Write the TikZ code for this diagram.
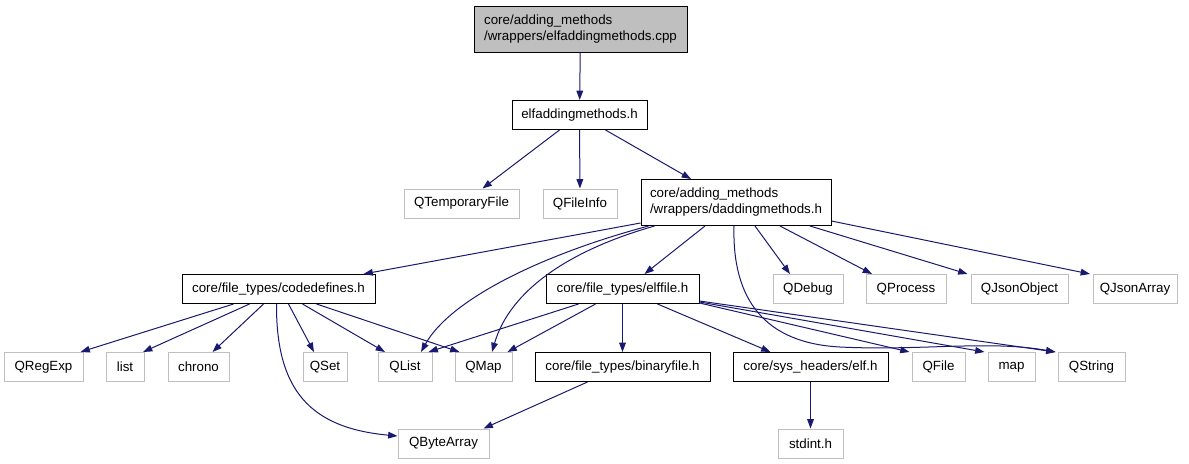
\documentclass[tikz,border=0pt]{standalone}
\usepackage{fontspec}
\setmainfont{Liberation Sans}
\usetikzlibrary{arrows.meta,calc}
\definecolor{edgeblue}{RGB}{25,25,112}
\definecolor{extgray}{RGB}{191,191,191}

\begin{document}
\begin{tikzpicture}[x=0.75pt,y=-0.75pt,>={Triangle[length=7pt,width=5pt]},font=\normalsize,
 nd/.style={inner sep=0pt,minimum height=21.75pt,align=center,line width=0.75pt},
 doc/.style={nd,draw=black},
 ext/.style={nd,draw=extgray},
 two/.style={minimum height=34.5pt,align=left},
 cur/.style={nd,two,draw=black,fill=extgray},
 wd/.style={minimum width=#1*0.75pt},
 dep/.style={->,edgeblue,line width=0.75pt}]
\useasboundingbox (0,0) rectangle (1189,464);
% file and its header
\node[cur,wd=213] (src) at (580.5,29) {core/adding\_methods\\/wrappers/elfaddingmethods.cpp};
\node[doc,wd=135] (eamh) at (579.5,115) {elfaddingmethods.h};
% second level
\node[ext,wd=115] (qtmp) at (461.5,203.5) {QTemporaryFile};
\node[ext,wd=74] (qfinfo) at (580,203.5) {QFileInfo};
\node[doc,two,wd=190] (dam) at (736,202.5) {core/adding\_methods\\/wrappers/daddingmethods.h};
% third level
\node[doc,wd=193] (cdef) at (278.5,289) {core/file\_types/codedefines.h};
\node[doc,wd=153] (elff) at (622.5,289) {core/file\_types/elffile.h};
\node[ext,wd=70] (qdbg) at (808,289) {QDebug};
\node[ext,wd=80] (qproc) at (906,289) {QProcess};
\node[ext,wd=97] (qjobj) at (1019.5,289) {QJsonObject};
\node[ext,wd=84] (qjarr) at (1135,289) {QJsonArray};
% fourth level
\node[ext,wd=79] (qre) at (43.5,367) {QRegExp};
\node[ext,wd=38] (lst) at (125,367) {list};
\node[ext,wd=61] (chr) at (198.5,367) {chrono};
\node[ext,wd=44] (qset) at (325,367) {QSet};
\node[ext,wd=54] (qlst) at (405,367) {QList};
\node[ext,wd=57] (qmap) at (483.5,367) {QMap};
\node[doc,wd=175] (binf) at (622.5,367) {core/file\_types/binaryfile.h};
\node[doc,wd=155] (elfh) at (810.5,367) {core/sys\_headers/elf.h};
\node[ext,wd=53] (qfile) at (938.5,367) {QFile};
\node[ext,wd=47] (map) at (1011.5,367) {map};
\node[ext,wd=67] (qstr) at (1091.5,367) {QString};
% bottom
\node[ext,wd=91] (qba) at (443.5,443.5) {QByteArray};
\node[ext,wd=65] (stdi) at (810.5,443.5) {stdint.h};
% includes of the file
\draw[dep] (src) -- (eamh);
\draw[dep] ($(eamh.south)+(-20,0)$) -- ($(qtmp.north)+(21,0)$); \draw[dep] (eamh) -- (qfinfo);
\draw[dep] ($(eamh.south)+(26,0)$) -- ($(dam.north)+(-45,0)$);
% daddingmethods.h
\draw[dep] ($(dam.south west)+(0,-3)$) -- ($(cdef.north east)+(-12,0)$);
\draw[dep] ($(dam.south west)+(8,0)$) .. controls (540,255) and (450,300) .. ($(qlst.north)+(16,0)$);
\draw[dep] ($(dam.south west)+(14,0)$) .. controls (570,250) and (510,290) .. ($(qmap.north)+(8.5,0)$);
\draw[dep] ($(dam.south)+(-31,0)$) -- ($(elff.north)+(22,0)$);
\draw[dep] ($(dam.south)+(-2,0)$) .. controls (732,300) and (765,343) .. (840,347) .. controls (920,351) and (990,340) .. ($(qstr.north west)+(-2,0)$);
\draw[dep] ($(dam.south)+(19,0)$) -- ($(qdbg.north)+(-18,0)$); \draw[dep] ($(dam.south)+(44,0)$) -- ($(qproc.north)+(-34,0)$);
\draw[dep] ($(dam.south)+(74,0)$) -- ($(qjobj.north)+(-52,0)$); \draw[dep] ($(dam.south east)+(0,-5)$) -- ($(qjarr.north)+(-45,0)$);
% codedefines.h
\draw[dep] ($(cdef.south)+(-45,0)$) -- ($(qre.north)+(37,0)$); \draw[dep] ($(cdef.south)+(-29,0)$) -- ($(lst.north)+(18,0)$);
\draw[dep] ($(cdef.south)+(-15,0)$) -- ($(chr.north)+(14,0)$);
\draw[dep] ($(cdef.south)+(-2,0)$) .. controls (276,390) and (310,428) .. ($(qba.west)+(0,-7.5)$);
\draw[dep] ($(cdef.south)+(10,0)$) -- ($(qset.north)+(-11,0)$); \draw[dep] ($(cdef.south)+(24,0)$) -- ($(qlst.north)+(-20,0)$);
\draw[dep] ($(cdef.south)+(38,0)$) -- ($(qmap.north)+(-24,0)$);
% elffile.h
\draw[dep] ($(elff.south)+(-44,0)$) -- ($(qlst.north east)+(-4,0)$); \draw[dep] ($(elff.south)+(-27,0)$) -- ($(qmap.north east)+(-5,0)$);
\draw[dep] (elff) -- (binf); \draw[dep] ($(elff.south)+(35,0)$) -- ($(elfh.north)+(-40,0)$);
\draw[dep] ($(elff.south east)+(0,-1)$) -- ($(qfile.north west)+(-2,0)$);
\draw[dep] ($(elff.south east)+(0,-2)$) -- ($(map.north west)+(-3,0)$);
\draw[dep] ($(elff.south east)+(0,-3)$) -- ($(qstr.north west)+(-2,0)$);
% lowest headers
\draw[dep] ($(binf.south)+(-35,0)$) -- ($(qba.north east)+(-6,0)$); \draw[dep] (elfh) -- (stdi);
\end{tikzpicture}
\end{document}
